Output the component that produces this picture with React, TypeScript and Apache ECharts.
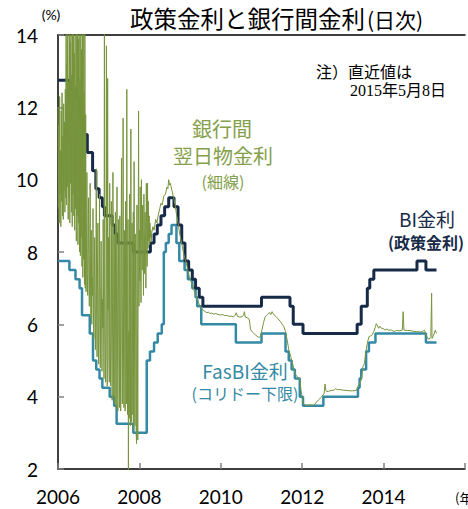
import React, { useEffect, useRef } from 'react';
import * as echarts from 'echarts';

// ---- axis ticks ----
const yTicks = [2, 4, 6, 8, 10, 12, 14];
const xYears = [2006, 2008, 2010, 2012, 2014];

// ---- BI rate (policy rate), step changes: effective date (decimal year) -> rate ----
const biDates = [
  2006.0, 2006.3, 2006.45, 2006.53, 2006.62, 2006.72, 2006.85, 2006.93, 2007.01, 2007.09,
  2007.14, 2007.33, 2007.4, 2007.47, 2007.85, 2008.27, 2008.36, 2008.44, 2008.53, 2008.62,
  2008.72, 2008.85, 2008.95, 2009.04, 2009.12, 2009.21, 2009.3, 2009.38, 2009.47, 2009.56,
  2011.0, 2011.7, 2011.78, 2012.02, 2013.35, 2013.45, 2013.6, 2013.66, 2013.76, 2014.82,
  2015.04, 2015.3,
];
const biRates = [
  12.75, 12.5, 12.25, 11.75, 11.25, 10.75, 10.25, 9.75, 9.5, 9.25,
  9.0, 8.75, 8.5, 8.25, 8.0, 8.25, 8.5, 8.75, 9.0, 9.25,
  9.5, 9.25, 8.75, 8.25, 7.75, 7.5, 7.25, 7.0, 6.75, 6.5,
  6.75, 6.5, 6.0, 5.75, 6.0, 6.5, 7.0, 7.25, 7.5, 7.75,
  7.5, 7.5,
];

// ---- FasBI rate (corridor floor) ----
const fasbiDates = [
  2006.0, 2006.28, 2006.43, 2006.53, 2006.59, 2006.78, 2006.86, 2006.94, 2007.02, 2007.09,
  2007.27, 2007.38, 2007.44, 2007.85, 2008.18, 2008.26, 2008.36, 2008.45, 2008.55, 2008.6,
  2008.65, 2008.72, 2008.79, 2008.91, 2008.98, 2009.11, 2009.19, 2009.3, 2009.38, 2009.42,
  2009.52, 2010.37, 2011.0, 2011.59, 2011.67, 2011.74, 2011.82, 2011.94, 2012.02, 2012.52,
  2013.37, 2013.41, 2013.45, 2013.57, 2013.64, 2013.8, 2015.04, 2015.3,
];
const fasbiRates = [
  7.75, 7.5, 7.25, 7.0, 6.25, 5.75, 5.0, 4.75, 4.5, 4.25,
  4.0, 3.75, 3.25, 3.0, 5.0, 5.25, 5.5, 5.75, 6.0, 8.0,
  8.25, 8.5, 8.75, 8.25, 7.75, 7.5, 7.25, 7.0, 6.75, 6.5,
  6.0, 5.5, 5.75, 5.25, 5.0, 4.75, 4.5, 4.0, 3.75, 4.0,
  4.25, 4.5, 4.75, 5.25, 5.5, 5.75, 5.5, 5.5,
];

// ---- Interbank overnight rate, volatile period: one reading every 0.01 year from 2006.00 ----
const interbankDailyStart = 2006.0;
const interbankDailyStep = 0.01;
const interbankDaily = [
  12.0, 9.2, 11.5, 8.8, 12.3, 9.6, 10.8, 8.7, 11.9, 9.4, 12.4, 9.0, 11.2, 8.9, 12.1, 9.7, 11.6, 9.1, 12.5, 9.5,
  14.8, 9.3, 13.2, 9.8, 15.5, 8.9, 12.7, 9.5, 14.9, 8.8, 13.8, 9.9, 16.0, 9.1, 12.9, 8.7, 15.2, 9.6, 14.4, 9.0,
  13.5, 8.6, 15.8, 9.2, 12.6, 8.3, 14.6, 9.0, 15.0, 8.2, 13.9, 8.8, 14.7, 8.0, 12.8, 7.9,
  15.4, 8.4, 13.6, 7.6, 14.2, 7.3, 15.1, 7.8, 12.4, 7.1, 14.5, 7.0, 11.8, 6.9,
  7.8, 10.2, 7.4, 6.8, 8.1, 9.5, 7.2, 6.5, 7.9, 9.9, 7.0, 6.2, 8.6, 6.0, 7.3,
  6.8, 9.2, 6.4, 5.6, 7.0, 8.4, 6.2, 5.3, 6.9, 10.3, 6.1, 5.1, 7.3, 8.8, 6.0, 4.9, 6.6, 9.6, 5.8, 4.8, 7.1, 8.3, 6.3, 4.7, 6.7,
  5.9, 8.9, 6.2, 4.5, 15.0, 6.0, 5.2, 4.4, 7.8, 13.7, 5.6, 4.3, 12.8, 6.4, 8.4, 5.0, 4.4, 9.9, 5.8, 4.3,
  6.1, 9.4, 5.5, 3.9, 6.6, 10.2, 5.7, 4.0, 8.5, 6.2, 3.8, 9.1, 5.4, 3.7, 7.8, 9.8, 5.9, 3.6, 6.3, 8.9,
  5.2, 3.7, 9.0, 6.0, 3.6, 7.4, 10.6, 5.5, 3.8, 6.8, 11.7, 5.1, 3.7, 8.6, 6.2, 3.6, 9.4, 5.6, 3.8, 12.5, 6.0, 3.5, 8.9, 1.5, 5.8,
  3.4, 9.6, 5.4, 3.2, 11.4, 5.0, 3.3, 8.8, 6.1, 3.5, 9.1, 3.1, 10.5, 5.6, 3.2, 8.5, 6.4, 3.0, 2.7, 9.3, 5.8, 2.8, 7.9, 11.9, 6.5,
  8.6, 7.2, 9.8, 8.1, 6.6, 10.0, 8.4, 7.5, 9.3, 8.2, 6.8, 9.6, 8.5, 7.4, 9.1, 8.3, 7.0, 9.9, 8.6, 7.6,
  9.9, 8.1, 9.4, 8.3, 9.0, 8.2, 8.8, 8.4, 8.6, 8.3,
];

// ---- Interbank overnight rate, calmer period ----
const interbankDates = [
  2008.3, 2008.33, 2008.36, 2008.4, 2008.43, 2008.46, 2008.5, 2008.53, 2008.56, 2008.6,
  2008.64, 2008.68, 2008.7, 2008.72, 2008.74, 2008.76, 2008.8, 2008.84, 2008.88, 2008.91,
  2008.95, 2008.99, 2009.03, 2009.07, 2009.11, 2009.15, 2009.19, 2009.22, 2009.26, 2009.3,
  2009.34, 2009.38, 2009.42, 2009.46, 2009.5, 2009.53, 2009.58, 2009.62, 2009.66, 2009.69,
  2009.74, 2009.78, 2009.83, 2009.88, 2009.93, 2010.0, 2010.05, 2010.1, 2010.15, 2010.2,
  2010.25, 2010.31, 2010.35, 2010.38, 2010.41, 2010.47, 2010.52, 2010.56, 2010.58, 2010.6,
  2010.65, 2010.7, 2010.72, 2010.74, 2010.78, 2010.81, 2010.86, 2010.93, 2010.98, 2011.01,
  2011.05, 2011.09, 2011.13, 2011.16, 2011.2, 2011.23, 2011.26, 2011.28, 2011.31, 2011.36,
  2011.41, 2011.47, 2011.51, 2011.55, 2011.59, 2011.63, 2011.67, 2011.72, 2011.78, 2011.83,
  2011.88, 2011.94, 2011.97, 2012.0, 2012.03, 2012.1, 2012.2, 2012.29, 2012.33, 2012.4,
  2012.48, 2012.54, 2012.56, 2012.58, 2012.6, 2012.65, 2012.71, 2012.78, 2012.82, 2012.87,
  2012.91, 2013.0, 2013.1, 2013.2, 2013.33, 2013.37, 2013.41, 2013.45, 2013.47, 2013.49,
  2013.53, 2013.55, 2013.57, 2013.6, 2013.64, 2013.68, 2013.72, 2013.76, 2013.8, 2013.82,
  2013.84, 2013.88, 2013.91, 2013.95, 2014.0, 2014.03, 2014.08, 2014.12, 2014.19, 2014.26,
  2014.32, 2014.4, 2014.46, 2014.48, 2014.5, 2014.58, 2014.65, 2014.72, 2014.81, 2014.9,
  2014.96, 2015.0, 2015.04, 2015.08, 2015.12, 2015.16, 2015.18, 2015.19, 2015.23, 2015.27,
  2015.3,
];
const interbankRates = [
  8.5, 8.7, 8.6, 8.9, 8.8, 9.0, 9.2, 9.35, 9.3, 9.55,
  9.6, 9.8, 9.75, 10.0, 9.85, 9.9, 9.7, 9.5, 9.3, 9.05,
  8.8, 8.5, 8.3, 8.05, 7.85, 7.7, 7.5, 7.35, 7.2, 7.1,
  6.95, 6.8, 6.7, 6.58, 6.48, 6.42, 6.38, 6.35, 6.32, 6.34,
  6.3, 6.31, 6.28, 6.3, 6.27, 6.26, 6.27, 6.24, 6.25, 6.22,
  6.23, 6.21, 6.24, 6.32, 6.22, 6.2, 6.21, 6.25, 6.35, 6.2,
  6.18, 6.14, 5.95, 5.84, 5.78, 5.75, 5.7, 5.64, 5.66, 5.84,
  6.05, 6.21, 6.25, 6.28, 6.33, 6.27, 6.35, 6.31, 6.26, 6.21,
  6.15, 6.07, 6.0, 5.94, 5.8, 5.57, 5.3, 5.1, 4.85, 4.62,
  4.55, 4.5, 4.2, 3.95, 3.8, 3.76, 3.77, 3.76, 3.82, 3.91,
  4.0, 4.09, 4.35, 4.18, 4.14, 4.15, 4.17, 4.18, 4.22, 4.19,
  4.2, 4.18, 4.17, 4.16, 4.17, 4.28, 4.37, 4.46, 4.6, 4.83,
  4.92, 5.1, 5.29, 5.48, 5.66, 5.68, 5.71, 5.8, 5.94, 6.02,
  5.98, 5.89, 5.95, 5.89, 5.88, 5.84, 5.87, 5.84, 5.84, 5.8,
  5.83, 5.82, 5.84, 6.35, 5.84, 5.83, 5.83, 5.81, 5.8, 5.79,
  5.8, 5.84, 5.75, 5.61, 5.59, 5.66, 6.86, 5.61, 5.7, 5.84,
  5.75,
];

const NAVY = '#172a47';
const TEAL = '#3589a4';
const OLIVE = '#77943d';
const OLIVE_TEXT = '#84a04a';
const CJK = "'Noto Sans CJK JP', 'Noto Sans', sans-serif";
const NUM = "Lato, 'Noto Sans', sans-serif";

export default function App() {
  const ref = useRef<HTMLDivElement>(null);

  useEffect(() => {
    if (!ref.current) return;
    const chart = echarts.init(ref.current, null, { renderer: 'svg' });

    const biData = biDates.map((d, i) => [d, biRates[i]]);
    const fasbiData = fasbiDates.map((d, i) => [d, fasbiRates[i]]);
    const greenData = [
      ...interbankDaily.map((v, i) => [interbankDailyStart + i * interbankDailyStep, v]),
      ...interbankDates.map((d, i) => [d, interbankRates[i]]),
    ];

    const txt = (text: string, x: number, y: number, size: number, fill: string, opts: any = {}) => ({
      type: 'text',
      x,
      y,
      silent: true,
      style: {
        text,
        fontSize: size,
        fontFamily: opts.fontFamily || CJK,
        fontWeight: opts.fontWeight || 'normal',
        fill,
        align: opts.align || 'center',
        textAlign: opts.align || 'center',
        verticalAlign: 'middle',
        textVerticalAlign: 'middle',
      },
    });

    chart.setOption({
      animation: false,
      backgroundColor: '#ffffff',
      grid: { left: 58, top: 35, width: 430, height: 434, containLabel: false },
      xAxis: [
        {
          type: 'value',
          min: 2006,
          max: 2016,
          interval: 2,
          position: 'bottom',
          axisLine: { show: true, lineStyle: { color: '#000', width: 1.5 } },
          axisTick: { show: true, inside: true, length: 6, lineStyle: { color: '#808080', width: 1.5 } },
          axisLabel: {
            show: true,
            fontSize: 19,
            fontFamily: NUM,
            color: '#000',
            margin: 18,
            formatter: (v: number) => (xYears.includes(v) ? String(v) : ''),
          },
          splitLine: { show: false },
        },
        {
          type: 'value',
          min: 2006,
          max: 2016,
          interval: 2,
          position: 'top',
          axisLine: { show: true, lineStyle: { color: '#000', width: 1.5 } },
          axisTick: { show: false },
          axisLabel: { show: false },
          splitLine: { show: false },
        },
      ],
      yAxis: {
        type: 'value',
        min: yTicks[0],
        max: yTicks[yTicks.length - 1],
        interval: 2,
        axisLine: { show: true, lineStyle: { color: '#000', width: 1.5 } },
        axisTick: { show: true, inside: true, length: 6, lineStyle: { color: '#808080', width: 1.5 } },
        axisLabel: { fontSize: 19, fontFamily: NUM, color: '#000', margin: 20 },
        splitLine: { show: false },
      },
      series: [
        {
          type: 'line',
          name: 'FasBI',
          data: fasbiData,
          step: 'end',
          showSymbol: false,
          clip: true,
          lineStyle: { color: TEAL, width: 2.5 },
          z: 2,
        },
        {
          type: 'line',
          name: 'BI',
          data: biData,
          step: 'end',
          showSymbol: false,
          clip: true,
          lineStyle: { color: NAVY, width: 3 },
          z: 3,
        },
        {
          type: 'line',
          name: 'Interbank',
          data: greenData,
          showSymbol: false,
          clip: true,
          lineStyle: { color: OLIVE, width: 1 },
          z: 4,
        },
      ],
      graphic: [
        txt('政策金利と銀行間金利', 130, 18, 23.5, '#000', { align: 'left' }),
        txt('(日次)', 367, 19, 21, '#000', { align: 'left' }),
        txt('(%)', 51, 14, 14, '#000', { fontFamily: NUM }),
        txt('注）直近値は', 316, 71, 16, '#000', { align: 'left' }),
        txt('2015年5月8日', 350, 90, 16, '#000', { align: 'left', fontFamily: "'Liberation Serif', 'Noto Sans CJK JP', serif" }),
        txt('銀行間', 222, 128, 20, OLIVE_TEXT),
        txt('翌日物金利', 223, 155, 20, OLIVE_TEXT),
        txt('(細線)', 223, 181, 16, OLIVE_TEXT),
        txt('BI金利', 427, 218, 19, NAVY),
        txt('(政策金利)', 426, 242, 16, NAVY, { fontWeight: 'bold' }),
        txt('FasBI金利', 245, 370, 19, TEAL),
        txt('(コリドー下限)', 245, 393, 16, TEAL),
        txt('(年)', 455, 497, 13, '#000', { align: 'left' }),
      ],
    });

    return () => chart.dispose();
  }, []);

  return <div ref={ref} style={{ position: 'fixed', left: 0, top: 0, width: 468, height: 509 }} />;
}
